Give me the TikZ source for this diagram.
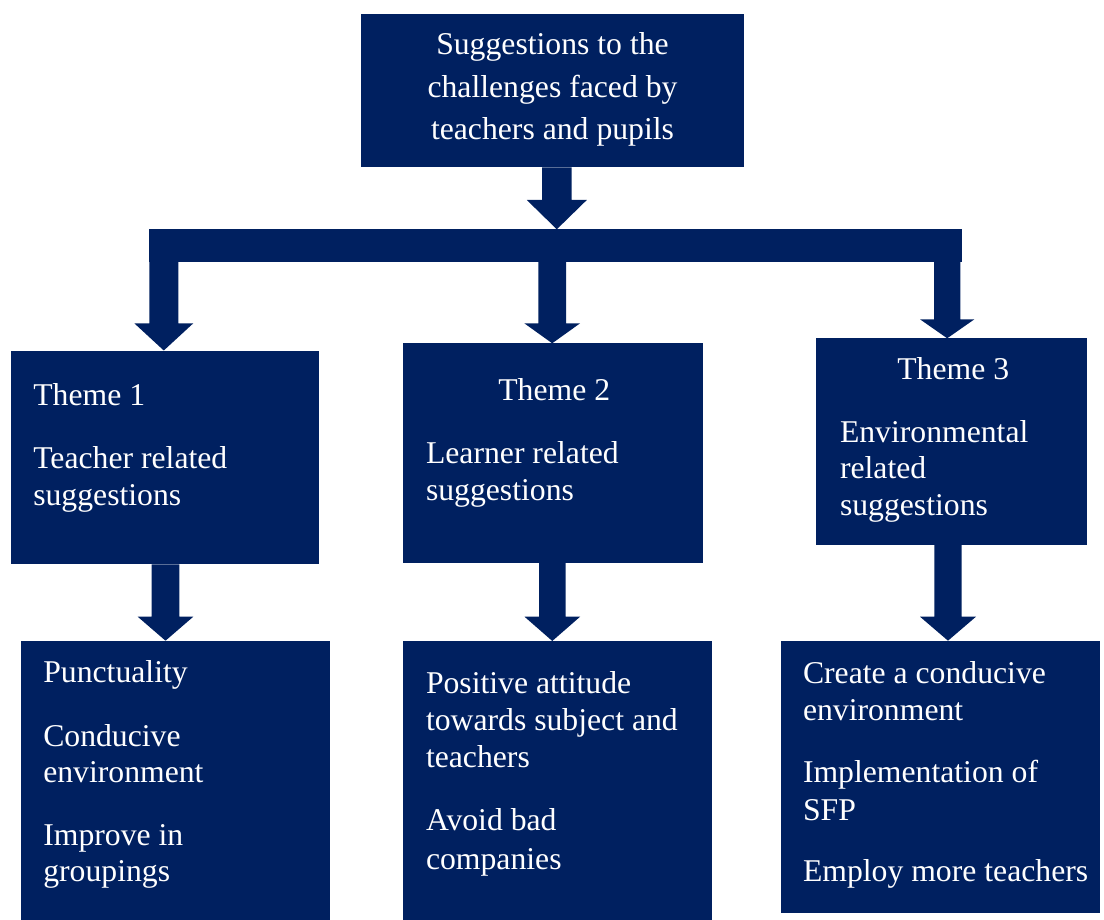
\documentclass[tikz,border=0pt]{standalone}
\usepackage{fontspec}
\setmainfont{Liberation Serif}
\usetikzlibrary{calc}
\definecolor{navy}{RGB}{0,32,96}
\tikzset{
  box/.style={fill=navy, draw=none, inner sep=0pt, outer sep=0pt, anchor=north west},
  txt/.style={text=white, inner sep=0pt, outer sep=0pt, anchor=base west,
    font=\fontsize{31.7}{37}\selectfont},
  ctxt/.style={txt, anchor=base},
  barrow/.style={fill=navy, draw=none}
}
% #1 from node, #2 to node, #3 x centre, #4 shaft half width, #5 head half width, #6 head length
\newcommand\blockarrow[6]{%
  \fill[barrow] let \p1=(#1), \p2=(#2) in
    (#3pt-#4pt, \y1) -- (#3pt+#4pt, \y1) -- (#3pt+#4pt, \y2+#6pt)
    -- (#3pt+#5pt, \y2+#6pt) -- (#3pt, \y2) -- (#3pt-#5pt, \y2+#6pt)
    -- (#3pt-#4pt, \y2+#6pt) -- cycle;}
\begin{document}
\begin{tikzpicture}[x=1pt, y=-1pt]
\useasboundingbox (0,0) rectangle (1104,920);
% boxes
\node[box, minimum width=383pt, minimum height=153.5pt] (top) at (361,14) {};
\node[box, minimum width=812.4pt, minimum height=32.4pt] (bar) at (149.3,229.3) {};
\node[box, minimum width=308.6pt, minimum height=213.8pt] (t1) at (10.7,350.5) {};
\node[box, minimum width=300.6pt, minimum height=219.4pt] (t2) at (402.7,343.3) {};
\node[box, minimum width=270.7pt, minimum height=206.7pt] (t3) at (816,338.3) {};
\node[box, minimum width=309pt, minimum height=279.3pt] (b1) at (21,640.7) {};
\node[box, minimum width=309pt, minimum height=279pt] (b2) at (402.7,641) {};
\node[box, minimum width=319.3pt, minimum height=272pt] (b3) at (780.7,640.7) {};
% block arrows
\blockarrow{top.south}{bar.north}{556.8}{14.8}{30}{29.3}
\blockarrow{bar.south}{t1.north}{163.8}{14.5}{29.5}{27.2}
\blockarrow{bar.south}{t2.north}{552.2}{13.9}{27.9}{20}
\blockarrow{bar.south}{t3.north}{947.2}{13.2}{27.2}{19}
\blockarrow{t1.south}{b1.north}{165.5}{13.8}{27.8}{24}
\blockarrow{t2.south}{b2.north}{552.3}{13.3}{27.8}{24.3}
\blockarrow{t3.south}{b3.north}{948}{13.7}{28}{24}
% texts
\node[ctxt] (top1) at (552.5,55) {Suggestions to the};
\node[ctxt] (top2) at (552.5,97.3) {challenges faced by};
\node[ctxt] (top3) at (552.5,139.3) {teachers and pupils};
\node[txt] (t1a) at (33.3,405) {Theme 1};
\node[txt] (t1b) at (33.3,468) {Teacher related};
\node[txt] (t1c) at (33.3,505.7) {suggestions};
\node[txt] (t2a) at (498.3,400) {Theme 2};
\node[txt] (t2b) at (426,463.3) {Learner related};
\node[txt] (t2c) at (426,500.7) {suggestions};
\node[txt] (t3a) at (897.3,379.3) {Theme 3};
\node[txt] (t3b) at (840,442.3) {Environmental};
\node[txt] (t3c) at (840,478.3) {related};
\node[txt] (t3d) at (840,515) {suggestions};
\node[txt] (b1a) at (43.3,682.7) {Punctuality};
\node[txt] (b1b) at (43.3,746) {Conducive};
\node[txt] (b1c) at (43.3,782.7) {environment};
\node[txt] (b1d) at (43.3,845) {Improve in};
\node[txt] (b1e) at (43.3,881.7) {groupings};
\node[txt] (b2a) at (426,693.3) {Positive attitude};
\node[txt] (b2b) at (426,730.7) {towards subject and};
\node[txt] (b2c) at (426,767.7) {teachers};
\node[txt] (b2d) at (426,830.7) {Avoid bad};
\node[txt] (b2e) at (426,869.3) {companies};
\node[txt] (b3a) at (803,683) {Create a conducive};
\node[txt] (b3b) at (803,720) {environment};
\node[txt] (b3c) at (803,782.7) {Implementation of};
\node[txt] (b3d) at (803,820) {SFP};
\node[txt] (b3e) at (803,881.7) {Employ more teachers};
\end{tikzpicture}
\end{document}
